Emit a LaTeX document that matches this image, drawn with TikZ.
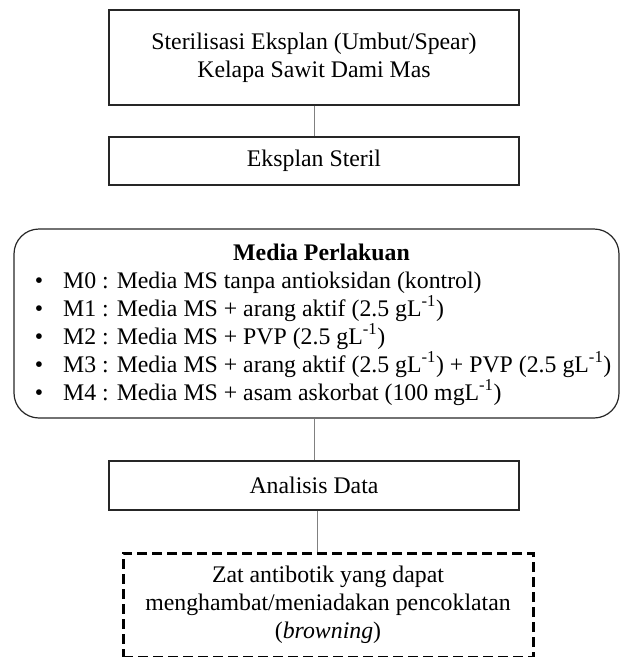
\documentclass[tikz,border=0pt]{standalone}
\usepackage{fontspec}
\setmainfont{Liberation Serif}
\begin{document}
\begin{tikzpicture}[x=1pt, y=-1pt,
            kotak/.style = {draw = black!85, line width = 1.2pt, minimum width = 410pt, inner sep = 0pt, align = center, font = \fontsize{23.8}{28}\selectfont},
            garis/.style = {draw = gray, line width = 0.8pt},
            isi/.style = {inner sep = 0pt, anchor = base west, font = \fontsize{23.8}{28}\selectfont}
        ]
            \useasboundingbox (0,0) rectangle (621,657);
            \node[kotak, minimum height = 95pt] (steril) at (314,57.5) {Sterilisasi Eksplan (Umbut/Spear)\\Kelapa Sawit Dami Mas};
            \node[kotak, minimum height = 48pt] (eksplan) at (314,161) {Eksplan Steril};
            \node[kotak, minimum width = 605pt, minimum height = 189pt, rounded corners = 25pt] (media) at (316.5,323.5) {};
            \node[isi, anchor = base, font = \fontsize{23.8}{28}\selectfont\bfseries] (judul) at (321.5,260) {Media Perlakuan};
            \foreach \teks [count = \i from 0] in {
                {M0 : Media MS tanpa antioksidan (kontrol)},
                {M1 : Media MS + arang aktif (2.5 gL\textsuperscript{-1})},
                {M2 : Media MS + PVP (2.5 gL\textsuperscript{-1})},
                {M3 : Media MS + arang aktif (2.5 gL\textsuperscript{-1}) + PVP (2.5 gL\textsuperscript{-1})},
                {M4 : Media MS + asam askorbat (100 mgL\textsuperscript{-1})}}
            {
                \node[isi, anchor = base] (b\i) at (39,288+28*\i) {\textbullet};
                \node[isi] (m\i) at (63,288+28*\i) {\teks};
            }
            \node[kotak, minimum height = 49pt] (analisis) at (314,485.5) {Analisis Data};
            \node[kotak, draw = black, line width = 3pt, dash pattern = on 10pt off 5pt, minimum height = 104pt] (hasil) at (328,605) {Zat antibotik yang dapat\\menghambat/meniadakan pencoklatan\\(\textit{browning})};
            \draw[garis] (steril) -- (eksplan);
            \draw[garis] (media.south -| analisis.north) -- (analisis.north);
            \coordinate (tengah) at ([xshift = 3pt]analisis.south);
            \draw[garis] (tengah) -- (tengah |- hasil.north);
        \end{tikzpicture}
\end{document}
